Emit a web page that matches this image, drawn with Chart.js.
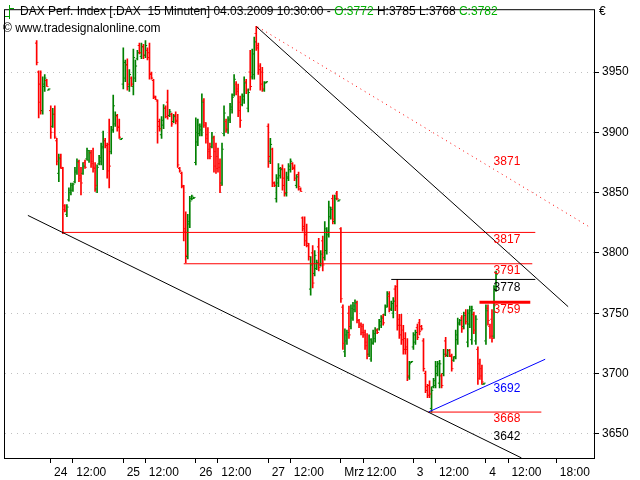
<!DOCTYPE html>
<html><head><meta charset="utf-8">
<script src="https://cdn.jsdelivr.net/npm/chart.js@4/dist/chart.umd.min.js"></script>
<style>html,body{margin:0;padding:0;background:#fff;}canvas{display:block;}</style>
</head><body>
<canvas id="c" width="640" height="480"></canvas>
<script>
// ---- time axis (15-minute bars, 36 per trading day, first bar of a day = slot 0) ----
const dayLabels = ['24','25','26','27','Mrz','3','4'];
const barsPerDay = 36;
const noonSlot = 11;      // 12:00 bar
const eveningSlot = 35;   // 18:00 slot
const firstBarIndex = -7; // last 7 bars of 23.02.

// ---- OHLC series (DAX, 15 min) ----
const open = [
 3974,3950,3940,3918,3938,3943,3935,
 3918,3905,3915,3893,3866,3879,3870,3839,3832,3844,3850,3852,3859,3867,3875,3864,3866,3875,3878,3877,3883,3876,3871,3853,3874,3876,3887,3893,3889,3890,3884,3902,3907,3913,3905,3894,
 3940,3945,3956,3938,3945,3938,3945,3961,3972,3963,3971,3964,3968,3966,3949,3943,3929,3926,3909,3898,3906,3920,3925,3914,3915,3909,3914,3910,3870,3866,3855,3820,3797,3824,3845,3845,
 3875,3892,3899,3902,3926,3906,3898,3886,3888,3895,3884,3880,3874,3858,3899,3909,3902,3910,3919,3931,3940,3936,3925,3923,3927,3942,3920,3950,3946,3948,3982,3972,3955,3950,3935,3941,
 3905,3876,3886,3858,3845,3858,3864,3870,3862,3849,3862,3869,3874,3871,3856,3865,3853,3829,3822,3815,3806,3770,3800,3783,3787,3805,3790,3810,3796,3802,3815,3830,3845,3826,3849,3843,
 3820,3755,3718,3727,3750,3739,3746,3753,3758,3744,3741,3739,3734,3726,3716,3712,3726,3729,3736,3737,3740,3747,3749,3756,3764,3753,3750,3770,3772,3745,3740,3736,3729,3722,3697,3709,
 3722,3726,3738,3742,3739,3727,3700,3689,3690,3671,3689,3690,3700,3692,3698,3700,3727,3715,3719,3714,3711,3714,3728,3741,3746,3739,3750,3726,3741,3728,3749,3727,3720,3708,3704,3691,
 3727,3754,3739,3745,3731,3772
];
const high = [
 3976,3951,3951,3946,3948,3944,3936,
 3922,3920,3922,3895,3882,3882,3871,3840,3840,3854,3858,3858,3871,3878,3877,3871,3875,3877,3887,3885,3885,3887,3875,3873,3881,3891,3901,3895,3891,3911,3905,3931,3917,3915,3911,3895,
 3970,3960,3961,3952,3946,3969,3960,3968,3974,3974,3973,3976,3970,3974,3950,3944,3930,3927,3911,3913,3923,3922,3935,3919,3916,3915,3917,3915,3871,3867,3856,3834,3832,3847,3848,3846,
 3912,3911,3907,3932,3928,3908,3904,3891,3900,3897,3891,3887,3878,3891,3922,3911,3913,3924,3932,3948,3942,3940,3930,3932,3946,3944,3936,3968,3969,3979,3988,3974,3957,3954,3942,3942,
 3907,3895,3887,3859,3865,3874,3871,3873,3870,3867,3874,3878,3875,3873,3865,3867,3854,3830,3830,3824,3808,3797,3806,3802,3794,3812,3802,3814,3826,3821,3843,3838,3848,3848,3851,3844,
 3821,3757,3737,3736,3756,3757,3759,3761,3760,3745,3742,3741,3736,3733,3732,3729,3736,3738,3737,3745,3748,3749,3757,3768,3768,3760,3763,3773,3778,3749,3749,3740,3734,3729,3710,3710,
 3734,3736,3741,3745,3740,3729,3702,3691,3694,3689,3696,3710,3710,3711,3700,3720,3730,3720,3720,3716,3714,3736,3746,3745,3748,3751,3753,3753,3756,3756,3751,3748,3722,3712,3707,3692,
 3757,3757,3741,3753,3773,3785
];
const low = [
 3956,3912,3915,3915,3934,3938,3935,
 3895,3904,3895,3873,3859,3870,3816,3834,3830,3843,3848,3851,3858,3865,3859,3848,3865,3870,3877,3875,3871,3867,3851,3850,3873,3873,3869,3887,3862,3854,3882,3900,3905,3901,3895,3894,
 3936,3942,3935,3934,3938,3931,3942,3960,3965,3961,3961,3962,3960,3944,3944,3928,3927,3891,3901,3895,3903,3912,3911,3913,3905,3908,3907,3871,3867,3854,3810,3792,3795,3821,3844,3845,
 3873,3889,3897,3897,3904,3891,3878,3878,3887,3867,3866,3867,3850,3856,3897,3900,3899,3908,3916,3930,3931,3913,3904,3922,3924,3932,3917,3935,3944,3944,3968,3948,3935,3934,3934,3941,
 3871,3874,3855,3855,3842,3855,3862,3852,3847,3847,3860,3867,3869,3860,3854,3852,3851,3818,3806,3805,3794,3765,3771,3781,3786,3785,3789,3785,3794,3799,3813,3828,3824,3824,3844,3843,
 3759,3720,3714,3724,3729,3737,3744,3751,3742,3738,3732,3730,3720,3712,3714,3710,3724,3726,3733,3736,3738,3740,3748,3755,3751,3752,3746,3752,3736,3729,3724,3716,3716,3694,3695,3709,
 3720,3724,3728,3732,3736,3702,3684,3680,3680,3668,3688,3688,3698,3688,3688,3698,3714,3714,3714,3702,3710,3712,3724,3740,3734,3737,3741,3722,3738,3724,3733,3724,3691,3695,3691,3691,
 3724,3740,3729,3726,3729,3768
];
const close = [
 3958,3925,3918,3940,3945,3938,3936,
 3900,3915,3896,3876,3878,3871,3836,3835,3838,3852,3856,3857,3868,3876,3862,3858,3872,3871,3885,3883,3874,3870,3856,3871,3879,3888,3893,3889,3868,3872,3902,3922,3914,3904,3896,3895,
 3958,3956,3940,3948,3940,3962,3955,3966,3966,3971,3964,3972,3962,3948,3945,3930,3927,3905,3903,3910,3920,3913,3914,3917,3907,3913,3909,3873,3868,3856,3818,3798,3826,3843,3847,3846,
 3900,3906,3905,3925,3908,3895,3884,3880,3896,3872,3870,3871,3856,3886,3916,3903,3911,3921,3929,3944,3934,3918,3910,3930,3941,3935,3933,3938,3965,3975,3970,3952,3940,3936,3941,3942,
 3880,3890,3858,3856,3862,3870,3869,3856,3850,3863,3872,3876,3870,3862,3863,3855,3851,3820,3810,3808,3797,3790,3775,3798,3792,3788,3799,3790,3820,3818,3838,3836,3828,3845,3845,3844,
 3762,3725,3732,3734,3732,3754,3756,3759,3744,3740,3734,3732,3723,3716,3728,3725,3733,3736,3734,3743,3746,3742,3755,3766,3754,3758,3760,3756,3740,3732,3728,3720,3720,3698,3708,3710,
 3732,3734,3730,3735,3737,3704,3686,3682,3683,3686,3694,3706,3708,3708,3690,3716,3716,3719,3715,3704,3713,3732,3742,3744,3737,3748,3743,3750,3752,3753,3736,3745,3696,3698,3693,3692,
 3752,3744,3731,3729,3772,3782
];

// ---- y axis ticks ----
const yTickValues = [3650, 3700, 3750, 3800, 3850, 3900, 3950];

// ---- drawn studies: [bar index, value] end points ----
const trendLower = [[-11.36, 3831.1], [233.6, 3630.0]];
const trendUpper = [[102.2, 3987.5], [256.8, 3755.4]];
const trendUpperDotted = [[102.7, 3987.5], [266.7, 3822.2]];
const trendBlue = [[187.7, 3668.2], [245.4, 3711.8]];
const levelValues = [3817, 3791, 3778, 3759, 3668];
const levelFrom = [6, 66, 169, 212.8, 187.2];
const levelTo = [240.5, 239, 240.5, 238, 243.5];
const labelTexts = ['3871', '3817', '3791', '3778', '3759', '3692', '3668', '3642'];
const labelValues = [3875.9, 3810.8, 3785.5, 3770.9, 3752.9, 3687, 3662.5, 3647.9];
const labelIndex = 219.8;

// ---- styles ----
const UP = '#008000', DOWN = '#ff0000', RED = '#ff0000', BLUE = '#0000ff';
const levelColors = [RED, RED, '#000000', RED, RED];
const levelWidths = [1, 1, 1, 3, 1];
const labelColors = [RED, RED, RED, '#000000', RED, BLUE, RED, '#000000'];
const FONT = 'Arial, "Liberation Sans", sans-serif';

// ---- build ----
const idx = open.map((_, i) => firstBarIndex + i);
const barColors = open.map((o, i) => close[i] >= o ? UP : DOWN);

const xTicks = [];
dayLabels.forEach((d, k) => {
  xTicks.push({ value: k * barsPerDay, label: d });
  xTicks.push({ value: k * barsPerDay + noonSlot, label: '12:00' });
});
xTicks.push({ value: (dayLabels.length - 1) * barsPerDay + eveningSlot, label: '18:00' });

const seg = (pts, color, width, dash) => ({
  type: 'line', data: pts.map(p => ({ x: p[0], y: p[1] })),
  borderColor: color, borderWidth: width, borderDash: dash || [],
  pointRadius: 0, tension: 0, order: 1
});

const datasets = [
  { type: 'bar', data: idx.map((x, i) => ({ x, y: [low[i], high[i]] })),
    backgroundColor: barColors, borderWidth: 0, barThickness: 1, order: 3 },
  { type: 'line', data: idx.map((x, i) => ({ x: x - 0.55, y: open[i] })), showLine: false,
    pointStyle: 'line', pointRadius: 0.6, pointBorderWidth: 1, pointBorderColor: barColors, order: 2 },
  { type: 'line', data: idx.map((x, i) => ({ x: x + 0.55, y: close[i] })), showLine: false,
    pointStyle: 'line', pointRadius: 0.6, pointBorderWidth: 1, pointBorderColor: barColors, order: 2 },
  seg(trendLower, '#000000', 1),
  seg(trendUpper, '#000000', 1),
  seg(trendUpperDotted, RED, 1, [1, 4]),
  seg(trendBlue, BLUE, 1),
  ...levelValues.map((v, k) => seg([[levelFrom[k], v], [levelTo[k], v]], levelColors[k], levelWidths[k]))
];

const last = open.length - 1;
const headerSegments = [
  { t: 'DAX Perf. Index [.DAX  15 Minuten] 04.03.2009 10:30:00 - ', c: '#000000' },
  { t: 'O:' + open[last], c: '#00b000' },
  { t: ' H:' + high[last] + ' L:' + low[last] + ' ', c: '#000000' },
  { t: 'C:' + close[last], c: '#00b000' }
];

const decor = {
  id: 'decor',
  afterDraw(chart) {
    const ctx = chart.ctx, a = chart.chartArea, xs = chart.scales.x, ys = chart.scales.y;
    ctx.save();
    // frame
    ctx.strokeStyle = '#000'; ctx.lineWidth = 1;
    ctx.strokeRect(a.left - 0.5, a.top - 0.5, a.right - a.left + 1, a.bottom - a.top + 1);
    // level labels
    ctx.font = '12px ' + FONT; ctx.textBaseline = 'middle'; ctx.textAlign = 'left';
    labelTexts.forEach((t, k) => {
      ctx.fillStyle = labelColors[k];
      ctx.fillText(t, xs.getPixelForValue(labelIndex), ys.getPixelForValue(labelValues[k]));
    });
    // header icon
    ctx.strokeStyle = '#00a000'; ctx.beginPath();
    ctx.moveTo(5, 16.5); ctx.lineTo(10, 16.5);
    ctx.moveTo(9.5, 19); ctx.lineTo(9.5, 5);
    ctx.moveTo(9.5, 8.5); ctx.lineTo(14, 8.5);
    ctx.stroke();
    // header text
    let x = 20;
    headerSegments.forEach(s => {
      ctx.fillStyle = s.c; ctx.fillText(s.t, x, 12);
      x += ctx.measureText(s.t).width;
    });
    ctx.fillStyle = '#000';
    ctx.fillText('\u00A9 www.tradesignalonline.com', 3, 29);
    ctx.fillText('\u20AC', 599, 12);
    ctx.restore();
  }
};

new Chart(document.getElementById('c'), {
  type: 'bar',
  data: { datasets },
  options: {
    responsive: false, animation: false, devicePixelRatio: 1,
    layout: { padding: { left: 2, top: 2, right: 0, bottom: 0 } },
    plugins: { legend: { display: false }, tooltip: { enabled: false } },
    scales: {
      x: {
        type: 'linear', min: -22.716, max: 269.63, offset: false,
        afterBuildTicks: ax => { ax.ticks = xTicks.map(t => ({ value: t.value })); },
        afterFit: ax => { ax.height = 22; },
        grid: { drawOnChartArea: false, drawTicks: true, tickLength: 5, tickColor: '#000', offset: false },
        border: { display: false },
        ticks: { autoSkip: false, maxRotation: 0, minRotation: 0, align: 'start', padding: 2,
                 color: '#000', font: { family: FONT, size: 12 },
                 callback: (v, i) => ' ' + xTicks[i].label }
      },
      y: {
        type: 'linear', position: 'right', min: 3629.9, max: 4001.3,
        afterBuildTicks: ax => { ax.ticks = yTickValues.map(v => ({ value: v })); },
        afterFit: ax => { ax.width = 46; },
        grid: { color: '#c0c0c0', tickColor: '#000', tickLength: 5, tickBorderDash: [], drawTicks: true },
        border: { display: false, dash: [1, 5] },
        ticks: { color: '#000', font: { family: FONT, size: 12 }, padding: 3,
                 callback: v => String(v) }
      }
    }
  },
  plugins: [decor]
});
</script>
</body></html>
